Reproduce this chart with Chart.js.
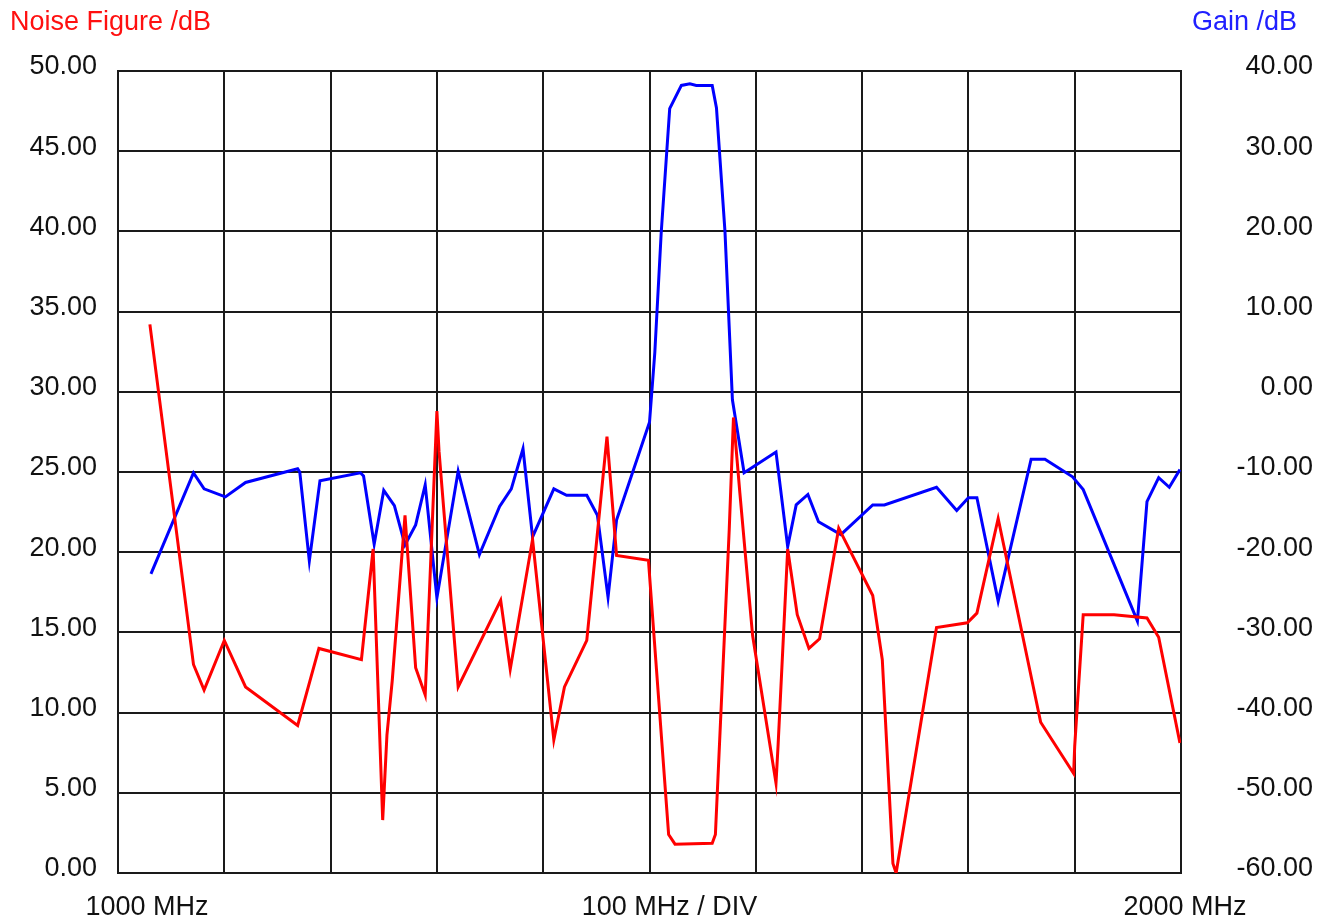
<!DOCTYPE html>
<html>
<head>
<meta charset="utf-8">
<script src="https://cdn.jsdelivr.net/npm/chart.js@4.4.1/dist/chart.umd.min.js"></script>
<style>
  html, body { margin: 0; padding: 0; background: #fff; }
  #wrap { width: 1336px; height: 923px; }
</style>
</head>
<body>
<div id="wrap"><canvas id="myChart1"></canvas></div>
<script>

    // noise figure trace (left axis, dB)
    var nfFreq = [1030, 1071, 1081, 1100, 1120, 1169, 1189, 1229, 1240, 1249, 1253, 1258, 1270, 1280, 1289,
      1300, 1302, 1320, 1360, 1369, 1390, 1410, 1420, 1441, 1460, 1469, 1499, 1518, 1524, 1559, 1562,
      1575, 1579, 1585, 1597, 1619, 1621, 1630, 1639, 1650, 1660, 1678, 1710, 1719, 1729, 1732,
      1770, 1799, 1808, 1828, 1868, 1899, 1900, 1908, 1937, 1968, 1979, 1999];
    var nfValues = [34.2, 13.0, 11.4, 14.5, 11.6, 9.2, 14.0, 13.3, 20.2, 3.3, 8.6, 12.0, 22.3, 12.8, 11.1,
      28.8, 26.3, 11.6, 17.0, 12.7, 20.8, 8.3, 11.6, 14.5, 27.2, 19.8, 19.5, 2.4, 1.8, 1.85, 2.4,
      21.4, 28.4, 23.7, 14.8, 5.6, 8.0, 20.2, 16.1, 14.0, 14.6, 21.5, 17.3, 13.3, 0.6, 0,
      15.3, 15.6, 16.2, 22.1, 9.4, 6.2, 7.9, 16.1, 16.1, 15.9, 14.7, 8.1];

    // gain trace (right axis, dB)
    var gainFreq = [1031, 1071, 1081, 1101, 1120, 1169, 1171, 1180, 1190, 1228, 1231, 1241, 1250, 1260,
      1270, 1280, 1289, 1300, 1320, 1340, 1359, 1370, 1381, 1390, 1410, 1422, 1441, 1451, 1461, 1469,
      1500, 1505, 1511, 1519, 1530, 1538, 1544, 1559, 1563, 1571, 1578, 1589, 1619, 1630, 1638, 1649,
      1659, 1680, 1710, 1721, 1770, 1789, 1800, 1808, 1828, 1859, 1872, 1898, 1908, 1959, 1968, 1979,
      1989, 1999];
    var gainValues = [-22.7, -10.1, -12.1, -13.1, -11.3, -9.6, -10.0, -21.1, -11.1, -10.1, -10.5, -19.0,
      -12.3, -14.2, -19.1, -16.6, -11.6, -25.7, -9.9, -20.3, -14.3, -12.1, -7.1, -18.1, -12.1, -12.9,
      -12.9, -15.4, -25.6, -16.0, -3.8, 4.9, 19.8, 35.3, 38.2, 38.4, 38.2, 38.2, 35.4, 20.0, -1.0,
      -10.1, -7.5, -19.3, -14.1, -12.8, -16.2, -17.8, -14.1, -14.1, -11.9, -14.8, -13.2, -13.2, -26.1,
      -8.4, -8.4, -10.6, -12.2, -28.6, -13.7, -10.7, -11.9, -9.7];

    var freqMin = 1000, freqMax = 2000, freqStep = 100;
    var nfMin = 0, nfMax = 50, nfStep = 5;
    var gainMin = -60, gainMax = 40, gainStep = 10;

    var bottomLabels = ['1000 MHz', '100 MHz / DIV', '2000 MHz'];

    function toPoints(xs, ys) {
      var pts = [];
      for (var i = 0; i < xs.length; i++) pts.push({x: xs[i], y: ys[i]});
      return pts;
    }

    var FONT = '"Liberation Sans", Arial, sans-serif';
    var gridColor = '#1a1a1a';

    var textPlugin = {
      id: 'textPlugin',
      afterDraw: function(chart) {
        var ctx = chart.ctx, a = chart.chartArea;
        ctx.save();
        ctx.font = '27px ' + FONT;
        ctx.textBaseline = 'middle';
        ctx.textAlign = 'left';
        ctx.fillStyle = '#ff1010';
        ctx.fillText('Noise Figure /dB', 10, 23);
        ctx.textAlign = 'right';
        ctx.fillStyle = '#2020ff';
        ctx.fillText('Gain /dB', a.right + 116, 23);
        ctx.fillStyle = '#111';
        ctx.textAlign = 'center';
        var y = a.bottom + 35;
        ctx.fillText(bottomLabels[0], a.left + 29, y);
        ctx.fillText(bottomLabels[1], (a.left + a.right) / 2 + 20, y);
        ctx.fillText(bottomLabels[2], a.right + 4, y);
        ctx.restore();
      }
    };

    var data1 = {
      datasets: [{
        label: 'Noise Figure',
        data: toPoints(nfFreq, nfValues),
        borderColor: '#ff0000',
        borderWidth: 3,
        pointRadius: 0,
        tension: 0,
        yAxisID: 'y'
      }, {
        label: 'Gain',
        data: toPoints(gainFreq, gainValues),
        borderColor: '#0000ff',
        borderWidth: 3,
        pointRadius: 0,
        tension: 0,
        yAxisID: 'y2'
      }]
    };

    var config1 = {
      type: 'line',
      data: data1,
      plugins: [textPlugin],
      options: {
        responsive: true,
        maintainAspectRatio: false,
        animation: false,
        layout: { padding: { top: 71, right: 23, bottom: 50, left: 0 } },
        plugins: { legend: { display: false }, tooltip: { enabled: false } },
        scales: {
          x: {
            type: 'linear',
            min: freqMin, max: freqMax,
            ticks: { stepSize: freqStep, display: false },
            grid: { color: gridColor, lineWidth: 2, drawTicks: false },
            border: { color: gridColor, width: 2 }
          },
          y: {
            position: 'left',
            min: nfMin, max: nfMax,
            ticks: {
              stepSize: nfStep, padding: 21, labelOffset: -4, color: '#111',
              font: { family: FONT, size: 27 },
              callback: function(v) { return v.toFixed(2); }
            },
            grid: { color: gridColor, lineWidth: 2, drawTicks: false },
            border: { color: gridColor, width: 2 },
            afterFit: function(s) { s.width = 118; }
          },
          y2: {
            position: 'right',
            min: gainMin, max: gainMax,
            ticks: {
              stepSize: gainStep, crossAlign: 'far', labelOffset: -4, color: '#111',
              font: { family: FONT, size: 27 },
              callback: function(v) { return v.toFixed(2); }
            },
            grid: { display: false, drawTicks: false },
            border: { color: gridColor, width: 2 },
            afterFit: function(s) { s.width = 132; }
          }
        }
      }
    };

    var myChart1 = new Chart(document.getElementById('myChart1'), config1);
</script>
</body>
</html>
